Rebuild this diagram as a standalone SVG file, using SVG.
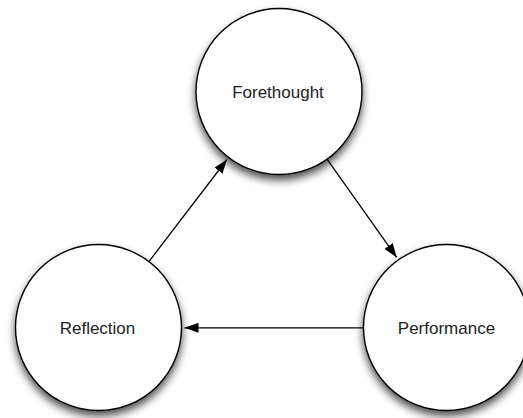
<svg xmlns="http://www.w3.org/2000/svg" width="523" height="418" viewBox="0 0 523 418">
  <defs>
    <filter id="drop" x="-30%" y="-30%" width="160%" height="170%">
      <feGaussianBlur in="SourceAlpha" stdDeviation="4"/>
      <feOffset dx="0" dy="5" result="blur"/>
      <feComponentTransfer>
        <feFuncA type="linear" slope="0.7"/>
      </feComponentTransfer>
      <feMerge>
        <feMergeNode/>
        <feMergeNode in="SourceGraphic"/>
      </feMerge>
    </filter>
    <marker id="head" viewBox="0 0 14 10" refX="14" refY="5" markerWidth="14" markerHeight="10" markerUnits="userSpaceOnUse" orient="auto">
      <path d="M0,0 L14,5 L0,10 Z" fill="#000"/>
    </marker>
  </defs>
  <style>
    .node circle { fill: #fff; stroke: #000; stroke-width: 1.4; filter: url(#drop); }
    .node text { font-family: "Liberation Sans", Arial, sans-serif; font-size: 17px; fill: #222; text-anchor: middle; }
    .edge { stroke: #000; stroke-width: 1.3; fill: none; marker-end: url(#head); }
  </style>
  <rect width="523" height="418" fill="#fff"/>

  <g id="connectors">
    <line class="edge" x1="148.9" y1="261.6" x2="227" y2="159.5"/>
    <line class="edge" x1="327" y1="159.2" x2="396.7" y2="257.4"/>
    <line class="edge" x1="363.5" y1="327.8" x2="184.5" y2="327.8"/>
  </g>

  <g id="forethought" class="node">
    <circle cx="279" cy="91.5" r="83"/>
    <text x="278" y="97.5">Forethought</text>
  </g>

  <g id="reflection" class="node">
    <circle cx="98.5" cy="327.5" r="83"/>
    <text x="97.5" y="333.5">Reflection</text>
  </g>

  <g id="performance" class="node">
    <circle cx="446.5" cy="327.5" r="83"/>
    <text x="446.5" y="333.5">Performance</text>
  </g>
</svg>
